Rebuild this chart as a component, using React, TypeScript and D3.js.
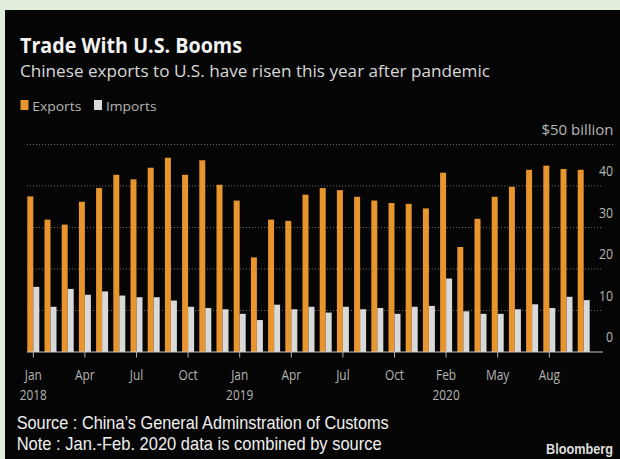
import React from "react";
import * as d3 from "d3";

const categories = [
  "2018-01","2018-02","2018-03","2018-04","2018-05","2018-06","2018-07","2018-08","2018-09","2018-10","2018-11","2018-12",
  "2019-01","2019-02","2019-03","2019-04","2019-05","2019-06","2019-07","2019-08","2019-09","2019-10","2019-11","2019-12",
  "2020-02","2020-03","2020-04","2020-05","2020-06","2020-07","2020-08","2020-09","2020-10",
];
const exportsBn = [37.5, 31.9, 30.7, 36.2, 39.5, 42.7, 41.6, 44.4, 46.8, 42.7, 46.2, 40.3, 36.5, 22.8, 31.9, 31.6, 37.9, 39.5, 39.0, 37.4, 36.5, 35.9, 35.7, 34.6, 43.2, 25.3, 32.1, 37.4, 39.8, 43.9, 44.9, 44.1, 43.9];
const importsBn = [15.7, 10.9, 15.2, 13.8, 14.6, 13.6, 13.2, 13.2, 12.4, 10.9, 10.6, 10.3, 9.2, 7.7, 11.4, 10.3, 10.9, 9.5, 10.9, 10.3, 10.6, 9.2, 10.9, 11.1, 17.7, 9.8, 9.2, 9.2, 10.3, 11.5, 10.6, 13.3, 12.5];
const tickCats = ["2018-01","2018-04","2018-07","2018-10","2019-01","2019-04","2019-07","2019-10","2020-02","2020-05","2020-08"];
const tickMonths = ["Jan","Apr","Jul","Oct","Jan","Apr","Jul","Oct","Feb","May","Aug"];
const tickYears = ["2018","","","","2019","","","","2020","",""];
const yTicks = [0, 10, 20, 30, 40, 50];
const yTickLabels = ["0", "10", "20", "30", "40", "$50 billion"];
const seriesKeys = ["Exports", "Imports"];
const seriesColors = ["#e8952e", "#d9d9d9"];

const FONT = "'Open Sans', 'DejaVu Sans', sans-serif";
const NARROW = "'Liberation Sans', Arial, sans-serif";

export default function App() {
  const W = 620, H = 459;
  const x = d3.scaleBand<string>().domain(categories).range([24.7, 592.3]).padding(0);
  const sub = d3.scaleBand<string>().domain(seriesKeys).range([0, 12]).padding(0);
  const y = d3.scaleLinear().domain([0, 50]).range([352, 144.5]);
  const center = (c: string) => (x(c) as number) + x.bandwidth() / 2;
  const barX = (c: string, k: string) => center(c) - 6 + (sub(k) as number);
  const series = [exportsBn, importsBn];

  return (
    <svg width={W} height={H} style={{ position: "absolute", left: 0, top: 0, display: "block" }}>
      <rect x={0} y={0} width={W} height={H} fill="#e1eedb" />
      <rect x={5} y={10} width={W - 5} height={H - 10} fill="#050505" />

      <text x={20} y={53} fill="#f2f2f2" fontFamily={FONT} fontWeight={700} fontSize={20.5}
        textLength={222} lengthAdjust="spacingAndGlyphs">Trade With U.S. Booms</text>
      <text x={20} y={76.5} fill="#d8d8d8" fontFamily={FONT} fontSize={17}
        textLength={470} lengthAdjust="spacingAndGlyphs">Chinese exports to U.S. have risen this year after pandemic</text>

      {/* legend */}
      <rect x={20.5} y={100} width={8} height={10} fill={seriesColors[0]} />
      <text x={32.3} y={110.5} fill="#b5b5b5" fontFamily={FONT} fontSize={13.5}
        textLength={49} lengthAdjust="spacingAndGlyphs">Exports</text>
      <rect x={94} y={100} width={8} height={10} fill={seriesColors[1]} />
      <text x={106} y={110.5} fill="#b5b5b5" fontFamily={FONT} fontSize={13.5}
        textLength={50.5} lengthAdjust="spacingAndGlyphs">Imports</text>

      {/* gridlines */}
      {yTicks.filter((t) => t > 0).map((t) => (
        <line key={t} x1={27} x2={t === 50 ? 613 : 603} y1={y(t)} y2={y(t)}
          stroke="#6a6a6a" strokeWidth={1} strokeDasharray="1,2" />
      ))}

      {/* y labels */}
      {yTicks.map((t, i) =>
        t === 50 ? (
          <text key={t} x={541.5} y={y(t) - 9.5} fill="#b5b5b5" fontFamily={FONT} fontSize={14.5}
            textLength={72} lengthAdjust="spacingAndGlyphs">{yTickLabels[i]}</text>
        ) : (
          <text key={t} x={613} y={y(t) - 9.8} textAnchor="end" fill="#b5b5b5" fontFamily={FONT}
            fontSize={14.5} transform={`translate(613,0) scale(0.85,1) translate(-613,0)`}>
            {yTickLabels[i]}
          </text>
        )
      )}

      {/* bars */}
      {series.map((vals, si) => (
        <g key={seriesKeys[si]} fill={seriesColors[si]}>
          {categories.map((c, i) => (
            <rect key={c} x={barX(c, seriesKeys[si])} y={y(vals[i])} width={sub.bandwidth()}
              height={y(0) - y(vals[i])} />
          ))}
        </g>
      ))}

      {/* baseline */}
      <line x1={27} x2={603} y1={y(0)} y2={y(0)} stroke="#c8c8c8" strokeWidth={1} />

      {/* x ticks */}
      {tickCats.map((c, i) => {
        const cx = center(c);
        return (
          <g key={c}>
            <line x1={cx} x2={cx} y1={y(0)} y2={y(0) + 5.5} stroke="#b0b0b0" strokeWidth={1} />
            <g transform={`translate(${cx},0) scale(0.82,1)`}>
              <text x={0} y={380.5} textAnchor="middle" fill="#b5b5b5" fontFamily={FONT} fontSize={14.5}>
                {tickMonths[i]}
              </text>
              {tickYears[i] && (
                <text x={0} y={400.5} textAnchor="middle" fill="#b5b5b5" fontFamily={FONT} fontSize={14.5}>
                  {tickYears[i]}
                </text>
              )}
            </g>
          </g>
        );
      })}

      {/* footer */}
      <text x={16.7} y={429.3} fill="#f0f0f0" fontFamily={NARROW} fontSize={18.5}
        textLength={372} lengthAdjust="spacingAndGlyphs">Source : China’s General Adminstration of Customs</text>
      <text x={16.7} y={450} fill="#f0f0f0" fontFamily={NARROW} fontSize={18.5}
        textLength={365} lengthAdjust="spacingAndGlyphs">Note : Jan.-Feb. 2020 data is combined by source</text>
      <text x={546} y={454} fill="#dedede" fontFamily={NARROW} fontWeight={700} fontSize={14}
        textLength={67} lengthAdjust="spacingAndGlyphs">Bloomberg</text>
    </svg>
  );
}
